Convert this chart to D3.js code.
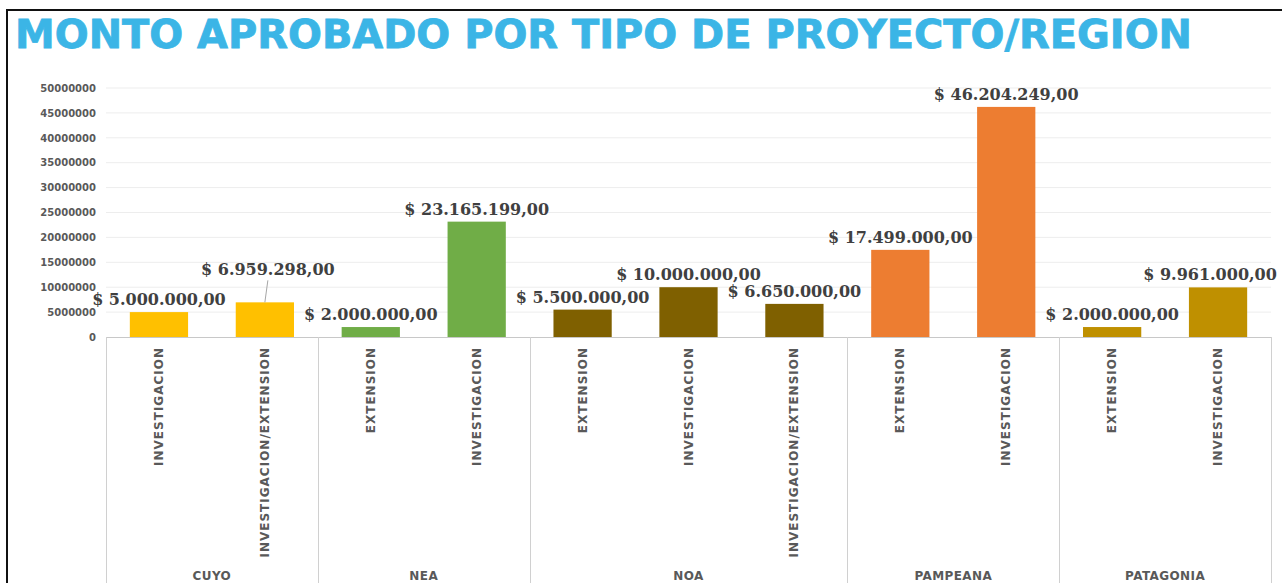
<!DOCTYPE html>
<html>
<head>
<meta charset="utf-8">
<script src="https://cdn.jsdelivr.net/npm/d3@7"></script>
<style>
  body { margin: 0; background: #fff; }
  svg { display: block; }
</style>
</head>
<body>
<div id="chart"></div>
<script>
// Data
const regions = ["CUYO", "NEA", "NOA", "PAMPEANA", "PATAGONIA"];
const tipos = ["INVESTIGACION", "INVESTIGACION/EXTENSION", "EXTENSION", "INVESTIGACION",
  "EXTENSION", "INVESTIGACION", "INVESTIGACION/EXTENSION", "EXTENSION", "INVESTIGACION",
  "EXTENSION", "INVESTIGACION"];
const tipoRegion = ["CUYO", "CUYO", "NEA", "NEA", "NOA", "NOA", "NOA", "PAMPEANA", "PAMPEANA",
  "PATAGONIA", "PATAGONIA"];
const montos = [5000000, 6959298, 2000000, 23165199, 5500000, 10000000, 6650000, 17499000,
  46204249, 2000000, 9961000];
const yTicks = [0, 5000000, 10000000, 15000000, 20000000, 25000000, 30000000, 35000000,
  40000000, 45000000, 50000000];

const regionColors = { CUYO: "#ffc000", NEA: "#70ad47", NOA: "#7f6000", PAMPEANA: "#ed7d31", PATAGONIA: "#bf9000" };

const W = 1282, H = 583;
const plot = { left: 106, right: 1271, top: 88, bottom: 337 };

const svg = d3.select("#chart").append("svg")
  .attr("width", W).attr("height", H);

// Frame (top and left edges of the screenshot)
svg.append("line").attr("x1", 6).attr("x2", W).attr("y1", 10).attr("y2", 10)
  .attr("stroke", "#111").attr("stroke-width", 2);
svg.append("line").attr("x1", 7).attr("x2", 7).attr("y1", 10).attr("y2", H)
  .attr("stroke", "#111").attr("stroke-width", 2);

// Title
svg.append("text")
  .attr("x", 15).attr("y", 48)
  .attr("textLength", 1177).attr("lengthAdjust", "spacingAndGlyphs")
  .style("font-family", "'DejaVu Sans', Verdana, sans-serif")
  .style("font-weight", "bold").style("font-size", "39px")
  .attr("fill", "#3bb5e6")
  .attr("stroke", "#3bb5e6").attr("stroke-width", 0.8)
  .text("MONTO APROBADO POR TIPO DE PROYECTO/REGION");

// Scales
const idx = d3.range(montos.length);
const x = d3.scaleBand().domain(idx).range([plot.left, plot.right]).padding(0);
const y = d3.scaleLinear().domain([0, 50000000]).range([plot.bottom, plot.top]);
const barW = x.bandwidth() * 0.55;

// Gridlines
svg.append("g").selectAll("line")
  .data(yTicks.filter(d => d > 0))
  .enter().append("line")
  .attr("x1", plot.left).attr("x2", plot.right)
  .attr("y1", d => y(d)).attr("y2", d => y(d))
  .attr("stroke", "#ededed").attr("stroke-width", 1);

// Y axis labels
const yAxis = svg.append("g")
  .attr("transform", `translate(${plot.left},0)`)
  .call(d3.axisLeft(y).tickValues(yTicks).tickFormat(d => String(d)).tickSize(0).tickPadding(10));
yAxis.select(".domain").remove();
yAxis.selectAll("text")
  .style("font-family", "'DejaVu Sans', Verdana, sans-serif")
  .style("font-weight", "bold").style("font-size", "10px")
  .attr("fill", "#595959");

// Bars
svg.append("g").selectAll("rect")
  .data(idx)
  .enter().append("rect")
  .attr("x", i => x(i) + (x.bandwidth() - barW) / 2)
  .attr("y", i => y(montos[i]))
  .attr("width", barW)
  .attr("height", i => y(0) - y(montos[i]))
  .attr("fill", i => regionColors[tipoRegion[i]]);

// Base axis line
svg.append("line")
  .attr("x1", plot.left).attr("x2", plot.right)
  .attr("y1", y(0) + 0.5).attr("y2", y(0) + 0.5)
  .attr("stroke", "#c8c8c8");

// Region separators and group labels
const groups = regions.map(r => {
  const members = idx.filter(i => tipoRegion[i] === r);
  return { region: r, x0: x(members[0]), x1: x(members[members.length - 1]) + x.bandwidth() };
});
const bounds = [plot.left].concat(groups.map(g => g.x1));
svg.append("g").selectAll("line")
  .data(bounds)
  .enter().append("line")
  .attr("x1", d => Math.round(d) + 0.5).attr("x2", d => Math.round(d) + 0.5)
  .attr("y1", y(0)).attr("y2", H)
  .attr("stroke", "#d0d0d0");

svg.append("g").selectAll("text")
  .data(groups)
  .enter().append("text")
  .attr("x", d => (d.x0 + d.x1) / 2).attr("y", 580)
  .attr("text-anchor", "middle")
  .style("font-family", "'DejaVu Sans', Verdana, sans-serif")
  .style("font-weight", "bold").style("font-size", "12px")
  .style("letter-spacing", "0.4px")
  .attr("fill", "#595959")
  .text(d => d.region);

// Category labels (rotated)
svg.append("g").selectAll("text")
  .data(idx)
  .enter().append("text")
  .attr("transform", i => `translate(${x(i) + x.bandwidth() / 2 + 4},${y(0) + 10}) rotate(-90)`)
  .attr("text-anchor", "end")
  .style("font-family", "'DejaVu Sans', Verdana, sans-serif")
  .style("font-weight", "bold").style("font-size", "12px")
  .style("letter-spacing", "1px")
  .attr("fill", "#595959")
  .text(i => tipos[i]);

// Data labels
const fmt = d3.formatLocale({ decimal: ",", thousands: ".", grouping: [3], currency: ["$ ", ""] }).format("$,.2f");
const nudge = { 1: { dx: 3, dy: -20, leader: true }, 10: { dx: -8, dy: 0 } };

const labels = svg.append("g");
idx.forEach(i => {
  const cx = x(i) + x.bandwidth() / 2;
  const top = y(montos[i]);
  const n = nudge[i] || { dx: 0, dy: 0 };
  const ly = top - 7 + n.dy;
  if (n.leader) {
    labels.append("line")
      .attr("x1", cx).attr("y1", top)
      .attr("x2", cx + n.dx).attr("y2", ly + 5)
      .attr("stroke", "#a6a6a6");
  }
  labels.append("text")
    .attr("x", cx + n.dx).attr("y", ly)
    .attr("text-anchor", "middle")
    .style("font-family", "'DejaVu Serif', Georgia, serif")
    .style("font-weight", "bold").style("font-size", "16px")
    .attr("fill", "#404040")
    .text(fmt(montos[i]));
});
</script>
</body>
</html>
